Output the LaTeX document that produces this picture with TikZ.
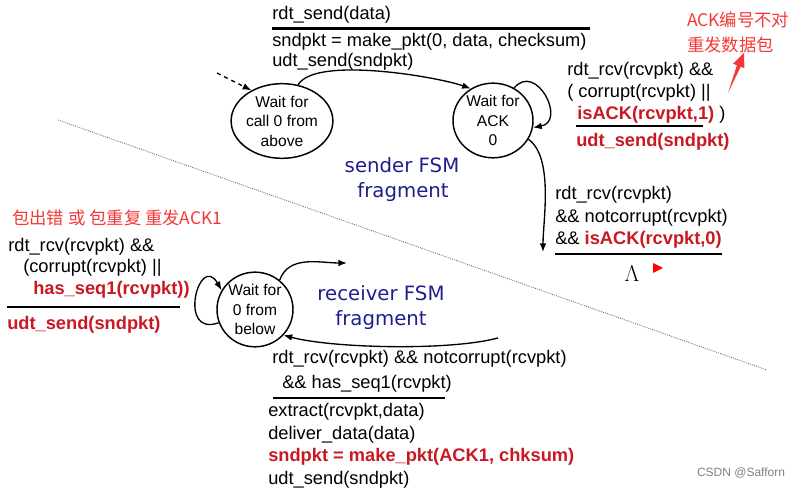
\documentclass[tikz,border=0pt]{standalone}
\usepackage{fontspec}
\setmainfont{Liberation Sans}
\newfontfamily\cjkfont{Noto Sans CJK SC}
\newfontfamily\fsmfont{DejaVu Sans}
\usetikzlibrary{arrows.meta,shapes.geometric}
\definecolor{fsmred}{RGB}{200,25,35}
\definecolor{notered}{RGB}{245,55,55}
\definecolor{fsmblue}{RGB}{30,30,140}
\newcommand{\hl}[1]{{\bfseries\color{fsmred}#1}}

\begin{document}
\begin{tikzpicture}[x=0.75pt,y=0.75pt,
    state/.style={draw,line width=1.1pt,ellipse,minimum width=60pt,minimum height=56pt,inner sep=0pt,align=center,font=\fontsize{11.7}{14.6}\selectfont},
    lbl/.style={anchor=west,inner sep=0pt,text height=10pt,text depth=3pt,font=\fontsize{13.7}{16}\selectfont},
    note/.style={anchor=west,inner sep=0pt,text=notered,font=\cjkfont\fontsize{13}{15}\selectfont},
    title/.style={text=fsmblue,inner sep=0pt,font=\fsmfont\fontsize{14.8}{18}\selectfont},
    rule/.style={line width=2pt},
    trans/.style={line width=1pt,-{Latex[length=6.5pt,width=5pt]}}]
  \useasboundingbox (0,0) rectangle (801,488);

  \node[state] (call) at (282,367) {Wait for\\call 0 from\\above};
  \node[state] (ack) at (493,367.5) {Wait for\\ACK\\0};
  \node[state,minimum width=57pt] (recv) at (255,178.5) {Wait for\\0 from\\below};

  \coordinate (init) at (217,415);
  \coordinate (ackdone) at (543,236);
  \coordinate (recvout) at (347,225);
  \coordinate (recvin) at (498,150);
  \coordinate (div1) at (58,368);
  \coordinate (div2) at (767,118);

  \draw[trans,dashed] (init) -- (call.135);
  \draw[trans] (call.66) to[out=60,in=160,looseness=0.5] (ack.125);
  \draw[trans] (ack.57) to[out=50,in=10,looseness=2] (ack.-10);
  \draw[trans] (ack.-28) to[out=-35,in=90,looseness=0.7] (ackdone);
  \draw[trans] (recv.200) to[out=200,in=120,looseness=3.5] (recv.150);
  \draw[trans] (recv.50) to[out=70,in=180] (recvout);
  \draw[trans] (recvin) to[out=195,in=-15,looseness=0.6] (recv.-42);
  \draw[gray!70!black,line width=0.6pt,dash pattern=on 0.6pt off 0.9pt] (div1) -- (div2);

  \node[lbl] (send1) at (272,473) {rdt\_send(data)};
  \draw[rule] (272,459.5) -- (590,459.5);
  \node[lbl] (send2) at (272,446) {sndpkt = make\_pkt(0, data, checksum)};
  \node[lbl] (send3) at (272,426) {udt\_send(sndpkt)};

  \node[lbl] (resend1) at (567,417) {rdt\_rcv(rcvpkt) \&\&};
  \node[lbl] (resend2) at (567,395) {( corrupt(rcvpkt) ||};
  \node[lbl] (resend3) at (577,373) {\hl{isACK(rcvpkt,1)} )};
  \draw[rule] (576,362) -- (703,362);
  \node[lbl] (resend4) at (576,346) {\hl{udt\_send(sndpkt)}};

  \node[lbl] (gotack1) at (555,293) {rdt\_rcv(rcvpkt)};
  \node[lbl] (gotack2) at (555,270) {\&\& notcorrupt(rcvpkt)};
  \node[lbl] (gotack3) at (555,248) {\&\& \hl{isACK(rcvpkt,0)}};
  \draw[rule] (555,234) -- (722,234);
  \node (lam) at (632,214) {\fontsize{16}{18}\selectfont$\Lambda$};
  \fill[red] (653,225) -- (663,220) -- (653,215) -- cycle;

  \node[note] (note1) at (687,468) {ACK编号不对};
  \node[note] (note2) at (687,443) {重发数据包};
  \fill[notered] (728,395) -- (736.9,422.7) -- (733.2,424.2) -- (744,435) -- (744.4,419.8) -- (740.7,421.3) -- cycle;

  \node[title] (sndtitle1) at (402,323) {sender FSM};
  \node[title] (sndtitle2) at (403,296) {fragment};
  \node[title] (rcvtitle1) at (381,195) {receiver FSM};
  \node[title] (rcvtitle2) at (381,168) {fragment};

  \node[note] (note3) at (12,270) {包出错 或 包重复 重发ACK1};
  \node[lbl] (dup1) at (8,241) {rdt\_rcv(rcvpkt) \&\&};
  \node[lbl] (dup2) at (23,220) {(corrupt(rcvpkt) ||};
  \node[lbl] (dup3) at (33,198) {\hl{has\_seq1(rcvpkt))}};
  \draw[rule] (7,181) -- (180,181);
  \node[lbl] (dup4) at (7,163) {\hl{udt\_send(sndpkt)}};

  \node[lbl] (ok1) at (272,129) {rdt\_rcv(rcvpkt) \&\& notcorrupt(rcvpkt)};
  \node[lbl] (ok2) at (282,104) {\&\& has\_seq1(rcvpkt)};
  \draw[rule] (273,90) -- (445,90);
  \node[lbl] (ok3) at (268,76) {extract(rcvpkt,data)};
  \node[lbl] (ok4) at (268,53) {deliver\_data(data)};
  \node[lbl] (ok5) at (268,31) {\hl{sndpkt = make\_pkt(ACK1, chksum)}};
  \node[lbl] (ok6) at (268,8) {udt\_send(sndpkt)};

  \node[text=gray,inner sep=0pt,font=\fontsize{9}{11}\selectfont] (mark) at (741,15) {CSDN @Safforn};
\end{tikzpicture}
\end{document}
